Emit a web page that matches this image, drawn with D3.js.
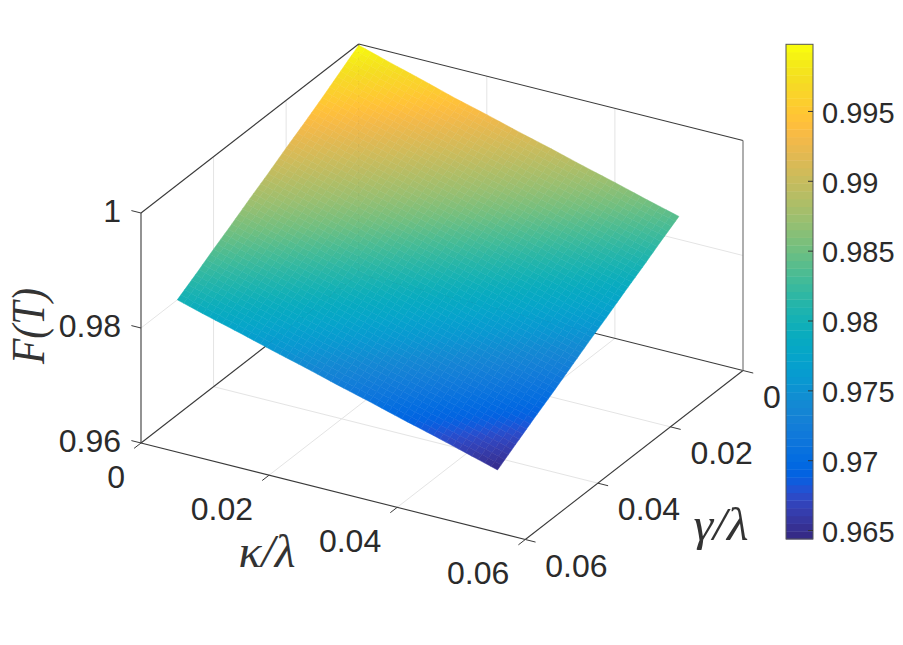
<!DOCTYPE html>
<html>
<head>
<meta charset="utf-8">
<script src="https://cdn.jsdelivr.net/npm/d3@7"></script>
<style>
html,body{margin:0;padding:0;background:#fff;}
svg{display:block;}
text{font-family:"Liberation Sans",Arial,sans-serif;fill:#2b2b2b;}
.math{font-family:"Liberation Serif","Times New Roman",serif;font-style:italic;fill:#333;}
</style>
</head>
<body>
<svg id="c" width="903" height="645"></svg>
<script>
// ---- data ----
const kappaValues = [0,0.005,0.01,0.015,0.02,0.025,0.03,0.035,0.04,0.045,0.05];
const gammaValues = [0,0.005,0.01,0.015,0.02,0.025,0.03,0.035,0.04,0.045,0.05];
// fidelity: one row per gamma, one column per kappa
const fidelity = [
[.9998,.9981,.9965,.9948,.9933,.9917,.9902,.9886,.9871,.9855,.9840],
[.9977,.9960,.9944,.9929,.9913,.9898,.9882,.9867,.9851,.9836,.9821],
[.9956,.9940,.9925,.9909,.9894,.9878,.9863,.9847,.9832,.9816,.9801],
[.9936,.9921,.9905,.9890,.9874,.9859,.9843,.9828,.9812,.9797,.9782],
[.9917,.9901,.9886,.9870,.9855,.9839,.9824,.9808,.9793,.9777,.9762],
[.9897,.9882,.9866,.9851,.9835,.9820,.9804,.9789,.9773,.9758,.9743],
[.9878,.9862,.9847,.9831,.9816,.9800,.9785,.9769,.9754,.9738,.9723],
[.9858,.9843,.9827,.9812,.9796,.9781,.9765,.9750,.9734,.9719,.9703],
[.9839,.9823,.9808,.9792,.9777,.9761,.9746,.9730,.9715,.9699,.9684],
[.9819,.9804,.9788,.9773,.9757,.9742,.9726,.9711,.9695,.9680,.9664],
[.9800,.9784,.9769,.9753,.9738,.9722,.9707,.9691,.9676,.9660,.9644]
];
const kappaTicks = [0,0.02,0.04,0.06];
const gammaTicks = [0,0.02,0.04,0.06];
const zTicks = [0.96,0.98,1];
const kappaTickLabels = ["0","0.02","0.04","0.06"];
const gammaTickLabels = ["0","0.02","0.04","0.06"];
const zTickLabels = ["0.96","0.98","1"];
const colorbarTicks = [0.965,0.97,0.975,0.98,0.985,0.99,0.995];
const colorbarLabels = ["0.965","0.97","0.975","0.98","0.985","0.99","0.995"];
const colorLimits = [0.96436,0.99977];
const parula = [
[.2081,.1663,.5292],[.2116,.1898,.5777],[.2123,.2138,.6270],[.2081,.2386,.6771],
[.1959,.2645,.7279],[.1707,.2919,.7792],[.1253,.3242,.8303],[.0591,.3598,.8683],
[.0117,.3875,.8820],[.0060,.4086,.8828],[.0165,.4266,.8786],[.0329,.4430,.8720],
[.0498,.4586,.8641],[.0629,.4737,.8554],[.0723,.4887,.8467],[.0779,.5040,.8384],
[.0793,.5200,.8312],[.0749,.5375,.8263],[.0641,.5570,.8240],[.0488,.5772,.8228],
[.0343,.5966,.8199],[.0265,.6137,.8135],[.0239,.6287,.8038],[.0231,.6418,.7913],
[.0228,.6535,.7768],[.0267,.6642,.7607],[.0384,.6743,.7436],[.0590,.6838,.7254],
[.0843,.6928,.7062],[.1133,.7015,.6859],[.1453,.7098,.6646],[.1801,.7177,.6424],
[.2178,.7250,.6193],[.2586,.7317,.5954],[.3022,.7376,.5712],[.3482,.7424,.5473],
[.3953,.7459,.5244],[.4420,.7481,.5033],[.4871,.7491,.4840],[.5300,.7491,.4661],
[.5709,.7485,.4494],[.6099,.7473,.4337],[.6473,.7456,.4188],[.6834,.7435,.4044],
[.7184,.7411,.3905],[.7525,.7384,.3768],[.7858,.7356,.3633],[.8185,.7327,.3498],
[.8507,.7299,.3360],[.8824,.7274,.3217],[.9139,.7258,.3063],[.9450,.7261,.2886],
[.9739,.7314,.2666],[.9938,.7455,.2403],[.9990,.7653,.2164],[.9955,.7861,.1967],
[.9880,.8066,.1794],[.9789,.8271,.1633],[.9697,.8481,.1475],[.9626,.8705,.1309],
[.9589,.8949,.1132],[.9598,.9218,.0948],[.9661,.9514,.0755],[.9763,.9831,.0538]
];

// ---- scales ----
const kScale = d3.scaleLinear().domain([0,0.06]).range([0,1]);
const gScale = d3.scaleLinear().domain([0,0.06]).range([0,1]);
const zScale = d3.scaleLinear().domain([0.96,1]).range([0,1]);
const origin = [358.7,274];
const kVec = [384.3,96.5];
const gVec = [-217.7,169];
const zVec = [0,-230];
const project = (k,g,z) => {
  const a=kScale(k), b=gScale(g), c=zScale(z);
  return [origin[0]+a*kVec[0]+b*gVec[0]+c*zVec[0],
          origin[1]+a*kVec[1]+b*gVec[1]+c*zVec[1]];
};
const cssColor = c => d3.rgb(c[0]*255,c[1]*255,c[2]*255).formatHex();
const colorRamp = d3.piecewise(d3.interpolateRgb, parula.map(cssColor));
const colorNorm = d3.scaleLinear().domain(colorLimits).range([0,1]).clamp(true);
const colorOf = v => colorRamp(colorNorm(v));

const svg = d3.select("#c");
const line = d3.line();
const zMin=0.96, zMax=1, kMax=0.06, gMax=0.06;

// ---- walls, floor grid ----
const grid = svg.append("g").attr("stroke","#e4e4e4").attr("stroke-width",1).attr("fill","none");
const seg = (g,a,b)=>g.append("path").attr("d",line([project(...a),project(...b)]));
[0.02,0.04].forEach(v=>{
  seg(grid,[0,v,zMin],[0,v,zMax]);
  seg(grid,[v,0,zMin],[v,0,zMax]);
  seg(grid,[v,0,zMin],[v,gMax,zMin]);
  seg(grid,[0,v,zMin],[kMax,v,zMin]);
});
seg(grid,[0,0,0.98],[0,gMax,0.98]);
seg(grid,[0,0,0.98],[kMax,0,0.98]);

// ---- box ----
const box = svg.append("g").attr("stroke","#3a3a3a").attr("stroke-width",1.1).attr("fill","none");
seg(box,[0,0,zMin],[0,gMax,zMin]);
seg(box,[0,0,zMin],[kMax,0,zMin]);
seg(box,[0,0,zMax],[0,gMax,zMax]);
seg(box,[0,0,zMax],[kMax,0,zMax]);
seg(box,[0,0,zMin],[0,0,zMax]);
seg(box,[0,gMax,zMin],[kMax,gMax,zMin]);
seg(box,[kMax,0,zMin],[kMax,gMax,zMin]);
seg(box,[0,gMax,zMin],[0,gMax,zMax]);
seg(box,[kMax,0,zMin],[kMax,0,zMax]).attr("stroke","#8c8c8c").attr("stroke-width",1.4);

// ---- surface: each data cell is shaded smoothly with small facets ----
const shade = 5;
const surface = svg.append("g");
for(let i=0;i<gammaValues.length-1;i++){
  for(let j=0;j<kappaValues.length-1;j++){
    const f00=fidelity[i][j], f01=fidelity[i][j+1], f10=fidelity[i+1][j], f11=fidelity[i+1][j+1];
    const g0=gammaValues[i], g1=gammaValues[i+1], k0=kappaValues[j], k1=kappaValues[j+1];
    const val=(u,v)=>f00*(1-u)*(1-v)+f01*u*(1-v)+f10*(1-u)*v+f11*u*v;
    const at=(u,v)=>project(k0+(k1-k0)*u,g0+(g1-g0)*v,val(u,v));
    for(let a=0;a<shade;a++)for(let b=0;b<shade;b++){
      const u0=a/shade,u1=(a+1)/shade,v0=b/shade,v1=(b+1)/shade;
      const col=colorOf(val((u0+u1)/2,(v0+v1)/2));
      surface.append("polygon")
        .attr("points",[at(u0,v0),at(u1,v0),at(u1,v1),at(u0,v1)].map(p=>p.join(",")).join(" "))
        .attr("fill",col).attr("stroke",col).attr("stroke-width",0.5);
    }
  }
}

// ---- 3D ticks ----
const ticks = svg.append("g").attr("stroke","#3a3a3a").attr("stroke-width",1).attr("fill","none");
zTicks.forEach(z=>seg(ticks,[0,gMax,z],[-0.0015,gMax,z]));
kappaTicks.forEach(k=>seg(ticks,[k,gMax,zMin],[k,gMax+0.0019,zMin]));
gammaTicks.forEach(g=>seg(ticks,[kMax,g,zMin],[kMax+0.0016,g,zMin]));

// ---- tick labels ----
const labels = svg.append("g").attr("font-size",32);
zTicks.forEach((z,i)=>{
  const p=project(0,gMax,z);
  labels.append("text").attr("x",p[0]-20).attr("y",p[1]-2.5).attr("dy","0.36em")
    .attr("text-anchor","end").text(zTickLabels[i]);
});
kappaTicks.forEach((k,i)=>{
  const p=project(k,gMax,zMin);
  labels.append("text").attr("x",p[0]-16).attr("y",p[1]+33).attr("dy","0.36em")
    .attr("text-anchor","end").text(kappaTickLabels[i]);
});
gammaTicks.forEach((g,i)=>{
  const p=project(kMax,g,zMin);
  labels.append("text").attr("x",p[0]+20).attr("y",p[1]+25.5).attr("dy","0.36em")
    .attr("text-anchor","start").text(gammaTickLabels[i]);
});

// ---- axis titles ----
svg.append("text").attr("class","math").attr("font-size",47)
  .attr("transform","translate(44,326) rotate(-90)").attr("text-anchor","middle")
  .attr("textLength",76).attr("lengthAdjust","spacingAndGlyphs").text("F(T)");
svg.append("text").attr("class","math").attr("font-size",47)
  .attr("x",267).attr("y",567).attr("text-anchor","middle")
  .attr("textLength",57).attr("lengthAdjust","spacingAndGlyphs").text("κ/λ");
svg.append("text").attr("class","math").attr("font-size",47)
  .attr("x",721).attr("y",540).attr("text-anchor","middle")
  .attr("textLength",55).attr("lengthAdjust","spacingAndGlyphs").text("γ/λ");

// ---- colorbar ----
const cbLeft=786, cbRight=813, cbTop=44.3, cbBottom=539;
const cbScale = d3.scaleLinear().domain(colorLimits).range([cbBottom,cbTop]);
const cb = svg.append("g");
const step=(colorLimits[1]-colorLimits[0])/parula.length;
cb.selectAll("rect").data(parula).join("rect")
  .attr("x",cbLeft).attr("width",cbRight-cbLeft)
  .attr("y",(d,i)=>cbScale(colorLimits[0]+(i+1)*step))
  .attr("height",(d,i)=>cbScale(colorLimits[0]+i*step)-cbScale(colorLimits[0]+(i+1)*step)+0.4)
  .attr("fill",cssColor);
cb.append("rect").attr("x",cbLeft).attr("y",cbTop).attr("width",cbRight-cbLeft).attr("height",cbBottom-cbTop)
  .attr("fill","none").attr("stroke","#555").attr("stroke-width",1);
const cbAxis = d3.axisRight(cbScale).tickValues(colorbarTicks)
  .tickSizeInner(-5).tickSizeOuter(0).tickPadding(9)
  .tickFormat((d,i)=>colorbarLabels[i]);
const cbG = svg.append("g").attr("transform",`translate(${cbRight},0)`).call(cbAxis);
cbG.select(".domain").remove();
cbG.selectAll("line").attr("stroke","#333").attr("stroke-width",1);
cbG.selectAll("text").attr("font-size",29).attr("font-family",'"Liberation Sans",Arial,sans-serif').attr("fill","#2b2b2b").attr("dy","0.39em");
</script>
</body>
</html>
